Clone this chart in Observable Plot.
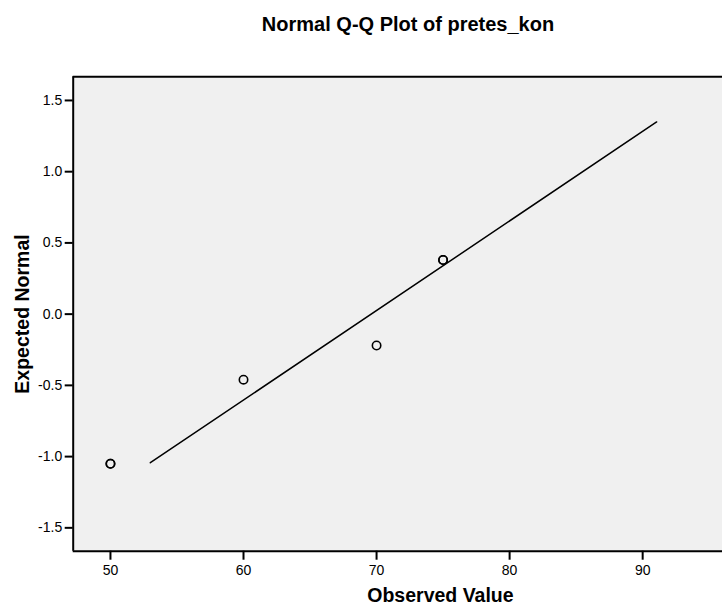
<!DOCTYPE html>
<html><head><meta charset="utf-8">
<script src="https://cdn.jsdelivr.net/npm/d3@7"></script>
<script src="https://cdn.jsdelivr.net/npm/@observablehq/plot@0.6"></script>
<style>
body{margin:0;background:#fff;font-family:"Liberation Sans",Arial,sans-serif;}
#title{position:relative;height:40px;width:722px;overflow:hidden;}
#title span{position:absolute;left:408px;top:14px;transform:translateX(-50%);font-weight:bold;font-size:20px;white-space:nowrap;line-height:1;color:#000;}
#chart svg{display:block;}
</style></head><body>
<div id="title"><span>Normal Q-Q Plot of pretes_kon</span></div>
<div id="chart"></div>
<script>
// Observed values and their expected normal scores (ties overlap)
const observed = [50, 50, 60, 70, 75, 75];
const expected = [-1.05, -1.05, -0.46, -0.22, 0.38, 0.38];
// Reference line end points
const lineObserved = [53.0, 91.05];
const lineExpected = [-1.043, 1.349];
// Ticks and domains
const xTicks = [50, 60, 70, 80, 90];
const yTicks = [-1.5, -1.0, -0.5, 0.0, 0.5, 1.0, 1.5];
const xDomain = [47.2, 96.0];
const yDomain = [-1.664, 1.666];
const xTitle = "Observed Value";
const yTitle = "Expected Normal";

const points = observed.map((x, i) => ({x, y: expected[i]}));
const lineData = lineObserved.map((x, i) => ({x, y: lineExpected[i]}));

const chart = Plot.plot({
  width: 722,
  height: 567,
  marginTop: 36.3,
  marginBottom: 56.3,
  marginLeft: 72.7,
  marginRight: 0,
  style: {fontFamily: "'Liberation Sans', Arial, sans-serif", fontSize: "14px", background: "white", color: "#000"},
  x: {domain: xDomain},
  y: {domain: yDomain},
  marks: [
    Plot.frame({fill: "#f0f0f0", stroke: null}),
    Plot.line(lineData, {x: "x", y: "y", stroke: "#000", strokeWidth: 1.5}),
    Plot.dot(points, {x: "x", y: "y", r: 4.2, stroke: "#000", strokeWidth: 1.6, fill: "none"}),
    Plot.ruleX([xDomain[0]], {stroke: "#000", strokeWidth: 2}),
    Plot.ruleY(yDomain, {stroke: "#000", strokeWidth: 2}),
    Plot.axisX({ticks: xTicks, tickSize: 9, tickPadding: 5, fontSize: 14, strokeWidth: 2, label: null, tickFormat: d => String(d)}),
    Plot.axisY({ticks: yTicks, tickSize: 8, tickPadding: 3, fontSize: 14, strokeWidth: 2, label: null, tickFormat: d => d.toFixed(1)}),
    Plot.text([yTitle], {frameAnchor: "left", textAnchor: "middle", lineAnchor: "middle", rotate: -90, dx: -50, fontSize: 19.5, fontWeight: "bold", fill: "#000"}),
    Plot.text([xTitle], {frameAnchor: "bottom", textAnchor: "middle", lineAnchor: "middle", dx: 42.6, dy: 44.3, fontSize: 19.5, fontWeight: "bold", fill: "#000"})
  ]
});
document.getElementById("chart").appendChild(chart);
</script>
</body></html>
